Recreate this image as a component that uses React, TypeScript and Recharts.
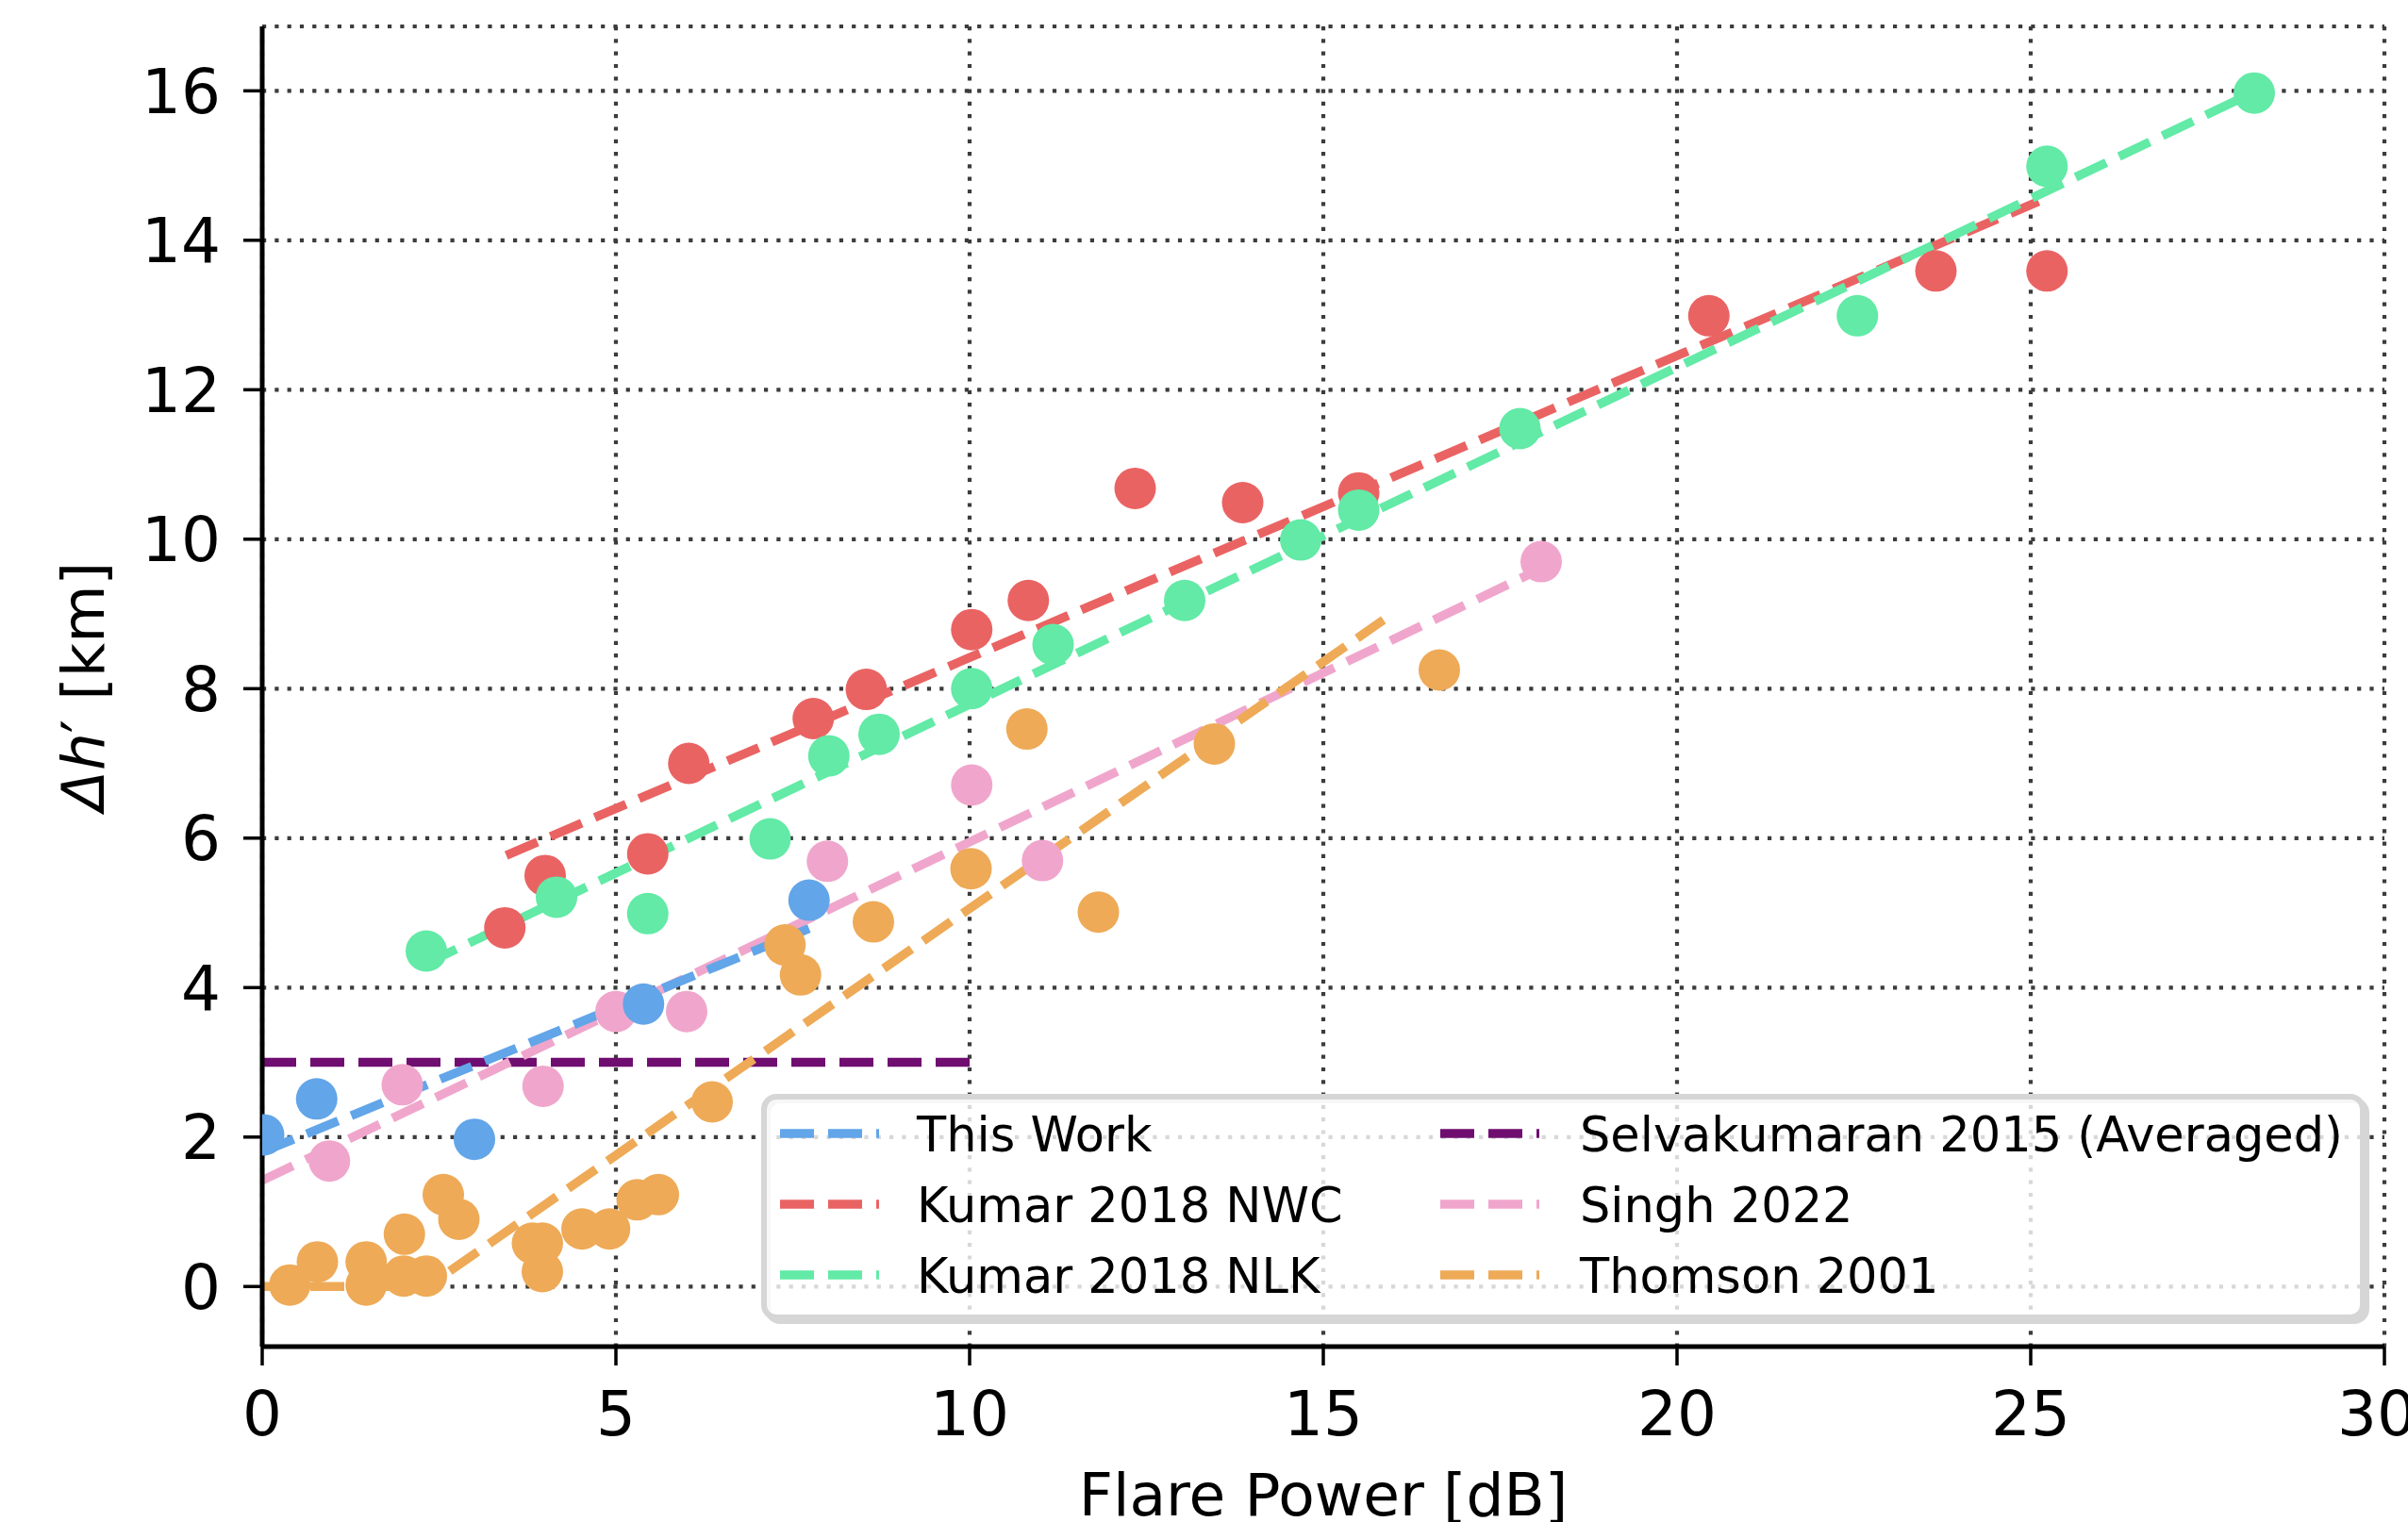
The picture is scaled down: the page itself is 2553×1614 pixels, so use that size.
import React from 'react';
import {
  ComposedChart,
  Scatter,
  Line,
  XAxis,
  YAxis,
  CartesianGrid,
  Label,
} from 'recharts';

// measured points (Flare Power [dB], Δh' [km])
const thisWorkPts = [
  { x: 0.02, y: 2.03 }, { x: 0.77, y: 2.51 }, { x: 3.0, y: 1.97 },
  { x: 5.39, y: 3.78 }, { x: 7.73, y: 5.17 },
];
const kumarNwcPts = [
  { x: 3.43, y: 4.8 }, { x: 4.0, y: 5.5 }, { x: 5.45, y: 5.79 }, { x: 6.03, y: 7.0 },
  { x: 7.79, y: 7.6 }, { x: 8.54, y: 7.99 }, { x: 10.03, y: 8.79 }, { x: 10.83, y: 9.18 },
  { x: 12.34, y: 10.68 }, { x: 13.86, y: 10.49 }, { x: 15.5, y: 10.62 },
  { x: 20.45, y: 12.99 }, { x: 23.66, y: 13.59 }, { x: 25.23, y: 13.59 },
];
const kumarNlkPts = [
  { x: 2.32, y: 4.49 }, { x: 4.16, y: 5.21 }, { x: 5.45, y: 4.99 }, { x: 7.18, y: 5.99 },
  { x: 8.01, y: 7.1 }, { x: 8.72, y: 7.39 }, { x: 10.03, y: 8.0 }, { x: 11.18, y: 8.59 },
  { x: 13.04, y: 9.18 }, { x: 14.68, y: 9.99 }, { x: 15.5, y: 10.39 }, { x: 17.78, y: 11.48 },
  { x: 22.55, y: 12.99 }, { x: 25.23, y: 14.99 }, { x: 28.16, y: 15.97 },
];
const singhPts = [
  { x: 0.95, y: 1.68 }, { x: 1.98, y: 2.7 }, { x: 3.97, y: 2.68 }, { x: 5.0, y: 3.68 },
  { x: 6.0, y: 3.68 }, { x: 7.99, y: 5.69 }, { x: 10.03, y: 6.71 }, { x: 11.03, y: 5.7 },
  { x: 18.08, y: 9.7 },
];
const thomsonPts = [
  { x: 0.39, y: 0.02 }, { x: 0.78, y: 0.33 }, { x: 1.47, y: 0.33 }, { x: 1.47, y: 0.02 },
  { x: 2.01, y: 0.7 }, { x: 2.0, y: 0.14 }, { x: 2.32, y: 0.14 }, { x: 2.56, y: 1.23 },
  { x: 2.78, y: 0.9 }, { x: 3.82, y: 0.58 }, { x: 3.96, y: 0.58 }, { x: 3.96, y: 0.2 },
  { x: 4.52, y: 0.77 }, { x: 4.91, y: 0.77 }, { x: 5.3, y: 1.16 }, { x: 5.6, y: 1.23 },
  { x: 6.36, y: 2.47 }, { x: 7.39, y: 4.57 }, { x: 7.61, y: 4.17 }, { x: 8.64, y: 4.88 },
  { x: 10.02, y: 5.59 }, { x: 10.81, y: 7.46 }, { x: 11.82, y: 5.01 }, { x: 13.46, y: 7.26 },
  { x: 16.64, y: 8.25 },
];

// fitted / reported trend lines
const thisWorkFit = [{ x: 0, y: 1.8 }, { x: 7.73, y: 4.79 }];
const kumarNwcFit = [{ x: 3.45, y: 5.77 }, { x: 25.11, y: 14.52 }];
const kumarNlkFit = [{ x: 2.31, y: 4.32 }, { x: 28.13, y: 15.97 }];
const selvaFit = [{ x: 0, y: 3.0 }, { x: 10, y: 3.0 }];
const singhFit = [{ x: 0, y: 1.42 }, { x: 17.91, y: 9.53 }];
const thomsonFit = [{ x: 0, y: 0 }, { x: 2.34, y: 0 }, { x: 15.85, y: 8.92 }];

const X_TICKS = [0, 5, 10, 15, 20, 25, 30];
const Y_TICKS = [0, 2, 4, 6, 8, 10, 12, 14, 16];

const BLUE = '#62a5e8';
const RED = '#ea6363';
const GREEN = '#62eaa6';
const PINK = '#f0a6cc';
const ORANGE = '#eeaa57';
const PURPLE = '#6f0e70';

const FONT = 'DejaVu Sans';
const DASH = '36 15';
const LW = 9.5;

const W = 2553;
const H = 1614;

const scatters = [
  { name: 'Thomson 2001', data: thomsonPts, color: ORANGE },
  { name: 'Singh 2022', data: singhPts, color: PINK },
  { name: 'Kumar 2018 NWC', data: kumarNwcPts, color: RED },
  { name: 'Kumar 2018 NLK', data: kumarNlkPts, color: GREEN },
  { name: 'This Work', data: thisWorkPts, color: BLUE },
];

const fits = [
  { name: 'Selvakumaran 2015 (Averaged)', data: selvaFit, color: PURPLE },
  { name: 'Singh 2022', data: singhFit, color: PINK },
  { name: 'Thomson 2001', data: thomsonFit, color: ORANGE },
  { name: 'Kumar 2018 NWC', data: kumarNwcFit, color: RED },
  { name: 'Kumar 2018 NLK', data: kumarNlkFit, color: GREEN },
  { name: 'This Work', data: thisWorkFit, color: BLUE },
];

const legendCols = [
  [
    { label: 'This Work', color: BLUE },
    { label: 'Kumar 2018 NWC', color: RED },
    { label: 'Kumar 2018 NLK', color: GREEN },
  ],
  [
    { label: 'Selvakumaran 2015 (Averaged)', color: PURPLE },
    { label: 'Singh 2022', color: PINK },
    { label: 'Thomson 2001', color: ORANGE },
  ],
];

const dot = (color: string) => (props: any) =>
  <circle cx={props.cx} cy={props.cy} r={22} fill={color} />;

const YTitle = (props: any) => {
  const vb = props.viewBox;
  const cx = 110;
  const cy = vb.y + vb.height / 2;
  return (
    <text x={cx} y={cy} transform={`rotate(-90, ${cx}, ${cy})`} textAnchor="middle"
      fontFamily={FONT} fontSize={63} fill="#000">
      <tspan fontStyle="italic">Δh</tspan>
      <tspan>′</tspan> [km]
    </text>
  );
};

const XTitle = (props: any) => {
  const vb = props.viewBox;
  return (
    <text x={vb.x + vb.width / 2} y={1607} textAnchor="middle"
      fontFamily={FONT} fontSize={63} fill="#000">
      Flare Power [dB]
    </text>
  );
};

const LegendBox = () => {
  const colX = [827, 1527];
  const textX = [972, 1675];
  const rowY = [1202, 1277, 1352];
  return (
    <svg width={W} height={H} style={{ position: 'absolute', left: 0, top: 0, pointerEvents: 'none' }}>
      <rect x={814} y={1167} width={1695} height={234} rx={13} fill="none" stroke="#d6d6d6" strokeWidth={6} />
      <rect x={810} y={1163} width={1695} height={234} rx={13} fill="#ffffff" fillOpacity={0.8} stroke="#d6d6d6" strokeWidth={6} />
      {legendCols.map((col, ci) =>
        col.map((it, ri) => (
          <g key={it.label}>
            <line x1={colX[ci]} x2={colX[ci] + 105} y1={rowY[ri]} y2={rowY[ri]}
              stroke={it.color} strokeWidth={LW} strokeDasharray={DASH} />
            <text x={textX[ci]} y={rowY[ri] + 18.6} fontFamily={FONT} fontSize={51} fill="#000">
              {it.label}
            </text>
          </g>
        ))
      )}
    </svg>
  );
};

export default function App() {
  return (
    <div style={{ position: 'absolute', left: 0, top: 0, width: W, height: H, background: '#fff' }}>
      <ComposedChart width={W} height={H} margin={{ top: 28, right: 25, bottom: 0, left: 0 }}>
        <XAxis
          type="number"
          dataKey="x"
          domain={[0, 30]}
          ticks={X_TICKS}
          allowDataOverflow
          height={186}
          tickSize={20}
          tickMargin={27}
          axisLine={{ stroke: '#000', strokeWidth: 5 }}
          tickLine={{ stroke: '#000', strokeWidth: 3.5 }}
          tick={{ fill: '#000', fontSize: 66, fontFamily: FONT }}
        >
          <Label content={<XTitle />} />
        </XAxis>
        <XAxis
          xAxisId="top"
          orientation="top"
          type="number"
          domain={[0, 30]}
          height={0}
          tick={false}
          tickLine={false}
          axisLine={{ stroke: '#000', strokeWidth: 5 }}
        />
        <YAxis
          type="number"
          dataKey="y"
          domain={[-0.804, 16.862]}
          ticks={Y_TICKS}
          allowDataOverflow
          width={278}
          tickSize={20}
          tickMargin={24}
          axisLine={{ stroke: '#000', strokeWidth: 5 }}
          tickLine={{ stroke: '#000', strokeWidth: 3.5 }}
          tick={{ fill: '#000', fontSize: 66, fontFamily: FONT }}
        >
          <Label content={<YTitle />} />
        </YAxis>
        <YAxis
          yAxisId="right"
          orientation="right"
          type="number"
          domain={[-0.804, 16.862]}
          width={0}
          tick={false}
          tickLine={false}
          axisLine={{ stroke: '#000', strokeWidth: 5 }}
        />

        {scatters.map((s) => (
          <Scatter key={'s-' + s.name} name={s.name} data={s.data} dataKey="y"
            fill={s.color} shape={dot(s.color)} isAnimationActive={false} />
        ))}

        <CartesianGrid stroke="#3c3c3c" strokeWidth={4.2} strokeDasharray="4.2 9.1" />

        {fits.map((f) => (
          <Line key={'l-' + f.name} name={f.name} data={f.data} dataKey="y" type="linear"
            stroke={f.color} strokeWidth={LW} strokeDasharray={DASH} dot={false}
            activeDot={false} isAnimationActive={false} />
        ))}
      </ComposedChart>
      <LegendBox />
    </div>
  );
}
